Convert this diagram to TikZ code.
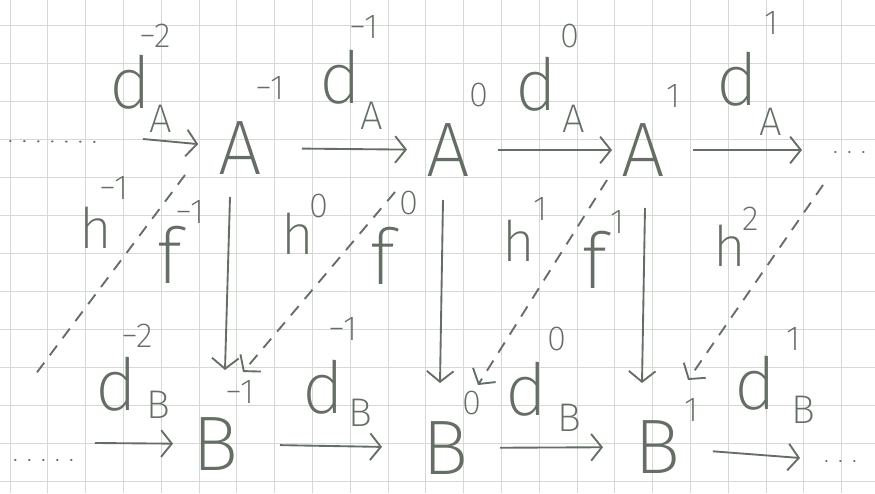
\documentclass[tikz,border=0pt]{standalone}
\usepackage{fontspec}
\setmainfont{Fira Sans}[UprightFont=* ExtraLight]
\usetikzlibrary{arrows.meta}
\definecolor{pencil}{RGB}{100,110,100}
\definecolor{gridc}{RGB}{214,216,214}
\begin{document}
\begin{tikzpicture}[x=0.75pt,y=-0.75pt,
  every node/.style={inner sep=0pt, text=pencil},
  obj/.style={font=\fontsize{58}{60}\selectfont},
  dl/.style={font=\fontsize{54}{56}\selectfont},
  fl/.style={font=\fontsize{58}{60}\selectfont},
  hl/.style={font=\fontsize{42}{44}\selectfont},
  subl/.style={font=\fontsize{30}{32}\selectfont},
  supl/.style={font=\fontsize{26}{28}\selectfont},
  arr/.style={draw=pencil, line width=1.4pt, -{Straight Barb[length=8pt,width=20pt,line width=1.4pt]}},
  homot/.style={arr, dash pattern=on 9pt off 7pt},
  homotend/.style={draw=pencil, line width=1.4pt, dash pattern=on 9pt off 7pt},
  dotl/.style={draw=pencil, line width=1.5pt, line cap=round, dash pattern=on 0.5pt off 10pt},
  gridl/.style={draw=gridc, line width=0.7pt}]
\fill[white] (0,0) rectangle (875,493);
\useasboundingbox (0,0) rectangle (875,493);
% graph paper
\foreach \i in {0,...,22} {\draw[gridl] ({10+37.8*\i},0) -- ({10+37.8*\i},493);}
\foreach \k in {0,...,12} {\draw[gridl] (0,{25+38*\k}) -- (875,{25+38*\k});}

% objects
\node[obj] (Am1) at (240,148) {A};
\node[supl] (Am1s) at (270,88) {−1};
\node[obj] (A0) at (448,150) {A};
\node[supl] (A0s) at (479,95) {0};
\node[obj] (A1) at (643,150) {A};
\node[supl] (A1s) at (674,96) {1};
\node[obj] (Bm1) at (215,444) {B};
\node[supl] (Bm1s) at (240,392) {−1};
\node[obj] (B0) at (445,448) {B};
\node[supl] (B0s) at (472,403) {0};
\node[obj] (B1) at (657,447) {B};
\node[supl] (B1s) at (692,410) {1};

% differential labels A
\node[dl] (dAm2) at (130,82) {d};
\node[subl] (dAm2b) at (161,119) {A};
\node[supl] (dAm2t) at (155,36) {−2};
\node[dl] (dAm1) at (340,77) {d};
\node[subl] (dAm1b) at (372,116) {A};
\node[supl] (dAm1t) at (364,27) {−1};
\node[dl] (dA0) at (536,84) {d};
\node[subl] (dA0b) at (574,119) {A};
\node[supl] (dA0t) at (570,36) {0};
\node[dl] (dA1) at (737,79) {d};
\node[subl] (dA1b) at (771,122) {A};
\node[supl] (dA1t) at (772,23) {1};
% differential labels B
\node[dl] (dBm2) at (116,384) {d};
\node[subl] (dBm2b) at (158,405) {B};
\node[supl] (dBm2t) at (137,336) {−2};
\node[dl] (dBm1) at (323,387) {d};
\node[subl] (dBm1b) at (360,413) {B};
\node[supl] (dBm1t) at (343,329) {−1};
\node[dl] (dB0) at (526,389) {d};
\node[subl] (dB0b) at (569,418) {B};
\node[supl] (dB0t) at (557,339) {0};
\node[dl] (dB1) at (755,383) {d};
\node[subl] (dB1b) at (803,410) {B};
\node[supl] (dB1t) at (794,339) {1};

% f labels
\node[fl] (fm1) at (170,255) {f};
\node[supl] (fm1s) at (190,212) {−1};
\node[fl] (f0) at (383,256) {f};
\node[supl] (f0s) at (409,203) {0};
\node[fl] (f1) at (595,260) {f};
\node[supl] (f1s) at (618,222) {1};
% h labels
\node[hl] (hm1) at (96,228) {h};
\node[supl] (hm1s) at (114,188) {−1};
\node[hl] (h0) at (298,234) {h};
\node[supl] (h0s) at (319,206) {0};
\node[hl] (h1) at (519,241) {h};
\node[supl] (h1s) at (541,209) {1};
\node[hl] (h2) at (730,246) {h};
\node[supl] (h2s) at (751,219) {2};

% free ends
\coordinate (LA0) at (10,141);
\coordinate (LA1) at (107,142);
\coordinate (LAs) at (143,139);
\coordinate (RAe) at (802,150);
\coordinate (RA0) at (835,152);
\coordinate (RA1) at (872,152);
\coordinate (LB0) at (15,460);
\coordinate (LB1) at (82,460);
\coordinate (LBs) at (95,443);
\coordinate (RBe) at (800,458);
\coordinate (RB0) at (826,461);
\coordinate (RB1) at (868,461);
\coordinate (hm1e) at (35,375);
\coordinate (h2st) at (823,185);

% dots
\draw[dotl] (LA0) -- (LA1);
\draw[dotl] (RA0) -- (RA1);
\draw[dotl] (LB0) -- (LB1);
\draw[dotl] (RB0) -- (RB1);

% differentials
\draw[arr, shorten >=31.5pt] (LAs) -- (Am1.center);
\draw[arr, shorten <=46.5pt, shorten >=30.75pt] (Am1.center) -- (A0.center);
\draw[arr, shorten <=37.5pt, shorten >=23.25pt] (A0.center) -- (A1.center);
\draw[arr, shorten <=37.5pt] (A1.center) -- (RAe);
\draw[arr, shorten >=31.5pt] (LBs) -- (Bm1.center);
\draw[arr, shorten <=48.75pt, shorten >=47.25pt] (Bm1.center) -- (B0.center);
\draw[arr, shorten <=41.25pt, shorten >=40.5pt] (B0.center) -- (B1.center);
\draw[arr, shorten <=42pt] (B1.center) -- (RBe);

% chain map
\draw[arr] ([shift={(-10,49)}]Am1.center) -- ([shift={(10,-74)}]Bm1.center);
\draw[arr] ([shift={(-5,50)}]A0.center) -- ([shift={(-5,-65)}]B0.center);
\draw[arr] ([shift={(2,58)}]A1.center) -- ([shift={(-15,-64)}]B1.center);

% homotopies
\draw[homotend] ([shift={(-55,27)}]Am1.center) -- (hm1e);
\draw[homot] ([shift={(-53,42)}]A0.center) -- ([shift={(28,-72)}]Bm1.center);
\draw[homot] ([shift={(-36,30)}]A1.center) -- ([shift={(33,-63)}]B0.center);
\draw[homot] (h2st) -- ([shift={(31,-67)}]B1.center);
\end{tikzpicture}
\end{document}
